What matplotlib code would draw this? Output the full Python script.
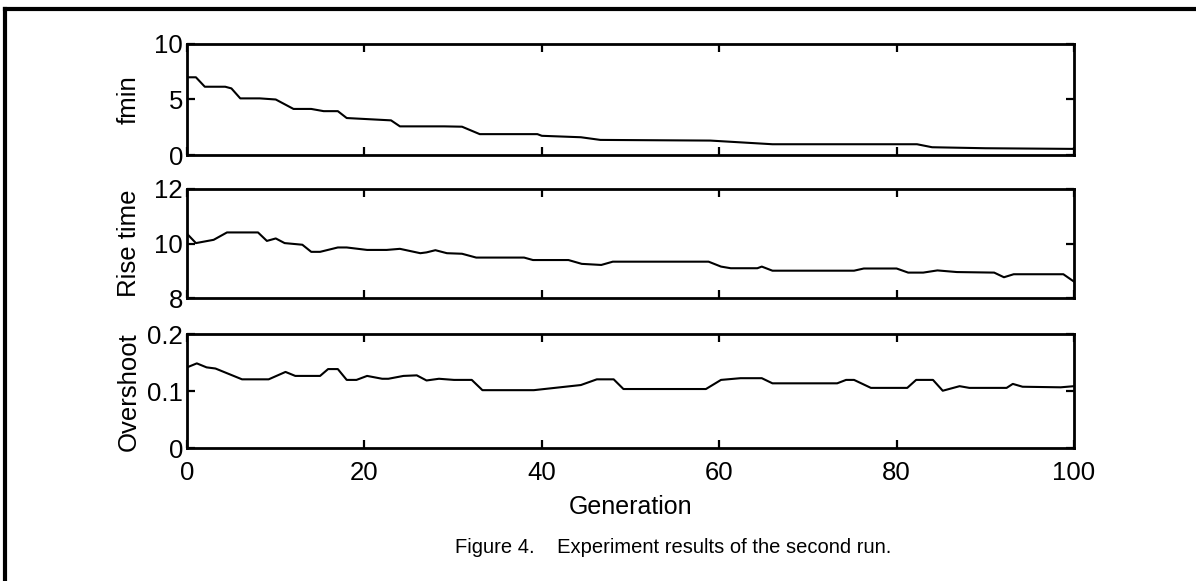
import numpy as np
import matplotlib
matplotlib.use('Agg')
import matplotlib.pyplot as plt
from matplotlib.lines import Line2D

plt.rcParams['font.family'] = ['Liberation Sans', 'DejaVu Sans']

# Dados (geração, valor)
g_fmin = [0, 1, 2, 4.3, 5, 6, 8.2, 10, 12, 14, 15.4, 17, 18, 23, 24, 29, 31, 33,
          39.5, 40, 44.4, 46.6, 59, 66, 82.3, 84, 90, 100]
fmin = [7.0, 7.0, 6.15, 6.15, 6.0, 5.1, 5.1, 5.0, 4.15, 4.15, 3.95, 3.95, 3.33, 3.12,
        2.58, 2.58, 2.55, 1.88, 1.88, 1.73, 1.6, 1.36, 1.3, 0.97, 0.97, 0.7, 0.61, 0.55]

g_rise = [0, 1, 3, 4.5, 8, 9, 10, 11, 13, 14, 15, 17, 18, 20.3, 22.5, 24, 26.3, 27,
          28, 29.3, 31, 32.6, 38, 39, 43, 44.5, 46.7, 48, 58.8, 60.2, 61.3, 64.3,
          64.8, 66, 75.2, 76.3, 80, 81.3, 83, 84.6, 86.8, 91, 92.1, 93.2, 98.8, 100]
rise = [10.36, 10.02, 10.14, 10.41, 10.41, 10.1, 10.19, 10.02, 9.96, 9.7, 9.7, 9.86,
        9.86, 9.77, 9.77, 9.81, 9.65, 9.68, 9.76, 9.65, 9.63, 9.49, 9.49, 9.4, 9.4,
        9.26, 9.22, 9.34, 9.34, 9.16, 9.1, 9.1, 9.16, 9.01, 9.01, 9.09, 9.09, 8.94,
        8.94, 9.02, 8.96, 8.94, 8.77, 8.88, 8.88, 8.61]

g_over = [0, 1.1, 2.2, 3.2, 6.2, 9.2, 11.1, 12.2, 15, 15.9, 17, 18, 19.1, 20.3, 22,
          22.7, 24.4, 25.9, 27, 28.4, 30.1, 32.1, 33.3, 39.1, 44.4, 46.2, 48.1, 49.2,
          58.5, 60.2, 62.4, 64.8, 66, 73.3, 74.3, 75.2, 77.1, 81.2, 82.2, 84.1, 85.2,
          87.1, 88.2, 92.4, 93.1, 94.2, 98.5, 100]
over = [0.142, 0.149, 0.142, 0.140, 0.121, 0.121, 0.134, 0.127, 0.127, 0.139, 0.139,
        0.12, 0.12, 0.127, 0.122, 0.122, 0.127, 0.128, 0.119, 0.122, 0.12, 0.12, 0.102,
        0.102, 0.111, 0.121, 0.121, 0.104, 0.104, 0.12, 0.123, 0.123, 0.114, 0.114,
        0.12, 0.12, 0.106, 0.106, 0.12, 0.12, 0.101, 0.109, 0.106, 0.106, 0.113,
        0.108, 0.107, 0.109]

paineis = [
    (g_fmin, fmin, 'fmin', (0, 10), [0, 5, 10], ['0', '5', '10']),
    (g_rise, rise, 'Rise time', (8, 12), [8, 10, 12], ['8', '10', '12']),
    (g_over, over, 'Overshoot', (0, 0.2), [0, 0.1, 0.2], ['0', '0.1', '0.2']),
]
posicoes = [0.7332, 0.4866, 0.2284]
alturas = [0.1911, 0.1881, 0.1962]

fig = plt.figure(figsize=(11.96, 5.81), dpi=100)

for i, (gx, gy, rotulo, lim, ticks, tlabels) in enumerate(paineis):
    ax = fig.add_axes([0.1564, posicoes[i], 0.7416, alturas[i]])
    ax.plot(gx, gy, color='black', linewidth=1.5)
    ax.set_xlim(0, 100)
    ax.set_ylim(*lim)
    ax.set_yticks(ticks)
    ax.set_yticklabels(tlabels)
    ax.set_xticks([0, 20, 40, 60, 80, 100])
    ax.tick_params(direction='in', length=6, width=1.6, top=True, right=True,
                   labelsize=18.5)
    ax.tick_params(axis='y', pad=3)
    ax.tick_params(axis='x', pad=9)
    for s in ax.spines.values():
        s.set_linewidth(2.0)
    ax.set_ylabel(rotulo, fontsize=18.5)
    if i < 2:
        ax.set_xticklabels([])
    else:
        ax.set_xlabel('Generation', fontsize=18, labelpad=7)
    ax.yaxis.set_label_coords(-0.052, 0.5)

fig.text(0.563, 0.057, 'Figure 4.    Experiment results of the second run.',
         ha='center', va='center', fontsize=14.5)

# Moldura (esquerda e topo)
fig.add_artist(Line2D([5 / 1196, 5 / 1196], [0, 1 - 9 / 581], transform=fig.transFigure,
                      color='black', linewidth=3))
fig.add_artist(Line2D([5 / 1196, 1], [1 - 9 / 581, 1 - 9 / 581], transform=fig.transFigure,
                      color='black', linewidth=3))

fig.savefig('out.png', dpi=100)
